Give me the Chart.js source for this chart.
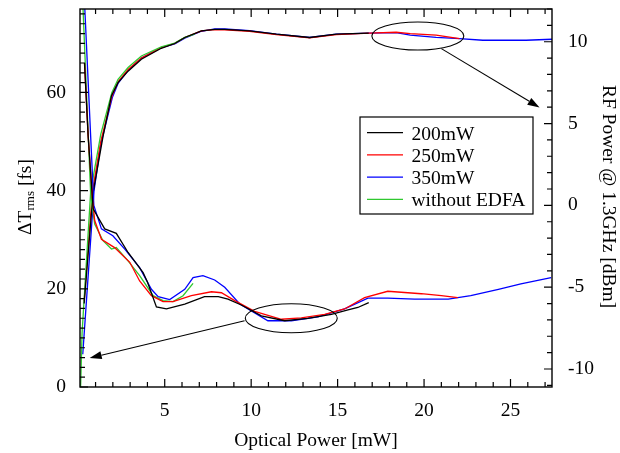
<!DOCTYPE html>
<html>
<head>
<meta charset="utf-8">
<title>Timing jitter and RF power vs optical power</title>
<script src="https://cdn.jsdelivr.net/npm/chart.js@4.4.1/dist/chart.umd.min.js"></script>
<style>
  html, body { margin: 0; padding: 0; background: #fff; }
  #wrap { width: 620px; height: 453px; position: relative; }
</style>
</head>
<body>
<div id="wrap"><canvas id="jitterChart"></canvas></div>
<script>
// Tick labels for the three axes
const xTickValues = [5, 10, 15, 20, 25];
const jitterTickValues = [0, 20, 40, 60];
const rfTickValues = [-10, -5, 0, 5, 10];

// Legend entries
const seriesNames = ['200mW', '250mW', '350mW', 'without EDFA'];
const seriesColors = ['#000000', '#ff0000', '#0000ff', '#2fc82f'];

// Timing jitter ΔT_rms [fs] vs optical power [mW] (left axis)
const jitter200X = [0.36, 0.57, 0.86, 1.53, 2.2, 2.88, 3.75, 4.0, 4.52, 5.1, 6.16, 7.3, 8.1, 8.66, 9.43, 10.59, 11.94, 13.28, 14.64, 15.6, 16.17, 16.8];
const jitter200Y = [66, 51.2, 36.3, 32.2, 31.3, 27.4, 23.3, 21.4, 16.3, 15.9, 16.9, 18.4, 18.4, 17.9, 16.7, 14.5, 13.5, 14.0, 14.8, 15.7, 16.2, 17.2];

const jitter250X = [0.36, 0.57, 0.82, 0.95, 1.34, 2.1, 2.98, 3.55, 4.23, 4.9, 5.48, 6.54, 7.7, 8.28, 9.05, 10.2, 11.75, 12.9, 14.25, 15.4, 16.56, 17.9, 19.84, 21.0, 21.95];
const jitter250Y = [66, 51.2, 38.4, 33.9, 30.1, 28.4, 25.4, 21.6, 18.6, 17.4, 17.4, 18.6, 19.4, 19.2, 17.6, 15.4, 13.8, 14.1, 14.8, 15.9, 18.2, 19.5, 19.0, 18.6, 18.2];

const jitter350X = [0.34, 0.9, 1.34, 2.0, 2.69, 3.55, 4.23, 4.62, 5.29, 6.16, 6.64, 7.21, 7.89, 8.47, 9.34, 10.97, 12.32, 13.86, 15.4, 16.75, 17.9, 19.45, 21.4, 22.7, 24.3, 25.6, 27.35];
const jitter350Y = [80, 37.0, 32.2, 30.8, 28.1, 24.3, 19.9, 18.4, 17.8, 19.9, 22.3, 22.7, 21.8, 20.3, 16.9, 13.5, 13.5, 14.3, 15.9, 18.1, 18.1, 17.9, 17.9, 18.6, 19.9, 21.0, 22.3];

const jitterNoEdfaX = [0.24, 0.72, 0.95, 1.43, 1.92, 2.2, 2.88, 3.55, 4.33, 4.9, 5.48, 6.06, 6.64];
const jitterNoEdfaY = [80, 39.0, 33.2, 29.8, 28.1, 28.4, 25.7, 22.7, 18.6, 17.6, 17.4, 18.6, 21.1];

// RF power @ 1.3GHz [dBm] vs optical power [mW] (right axis)
const rf200X = [0.34, 0.86, 1.43, 1.92, 2.3, 2.88, 3.65, 4.8, 5.58, 6.16, 7.12, 7.9, 8.47, 9.9, 11.46, 13.38, 14.92, 16.8];
const rf200Y = [-6.0, 0.8, 4.2, 6.7, 7.5, 8.2, 8.93, 9.6, 9.89, 10.26, 10.66, 10.76, 10.76, 10.66, 10.46, 10.26, 10.46, 10.52];

const rf250X = [0.34, 0.82, 1.3, 1.94, 2.3, 2.88, 3.65, 4.8, 5.58, 6.16, 7.12, 7.9, 8.47, 9.9, 11.46, 13.38, 14.92, 16.85, 18.39, 19.2, 20.7, 22.05];
const rf250Y = [-5.85, 0.86, 3.9, 6.65, 7.55, 8.3, 9.0, 9.64, 9.9, 10.26, 10.66, 10.74, 10.72, 10.64, 10.44, 10.24, 10.44, 10.52, 10.58, 10.5, 10.4, 10.19];

const rf350X = [0.26, 0.91, 1.3, 1.97, 2.3, 2.88, 3.65, 4.8, 5.58, 6.16, 7.12, 7.9, 8.47, 9.9, 11.46, 13.38, 14.92, 16.85, 18.39, 19.2, 20.7, 22.05, 23.4, 25.9, 27.4];
const rf350Y = [-9.1, 0.87, 3.73, 6.59, 7.45, 8.25, 9.0, 9.64, 9.86, 10.22, 10.64, 10.78, 10.78, 10.68, 10.46, 10.26, 10.46, 10.52, 10.56, 10.4, 10.26, 10.19, 10.09, 10.09, 10.15];

const rfNoEdfaX = [0.13, 0.22, 0.72, 1.3, 1.94, 2.3, 2.88, 3.65, 4.8, 5.58, 6.16, 6.73];
const rfNoEdfaY = [-11.3, -7.8, 0.87, 4.34, 6.89, 7.7, 8.42, 9.13, 9.68, 9.92, 10.26, 10.46];

const SERIF = '"Liberation Serif", "Times New Roman", serif';

function toPoints(xs, ys) {
    return xs.map((x, i) => ({ x: x, y: ys[i] }));
}

function lineSet(xs, ys, color, axis) {
    return {
        data: toPoints(xs, ys),
        borderColor: color,
        backgroundColor: 'transparent',
        borderWidth: 1.3,
        pointRadius: 0,
        tension: 0,
        yAxisID: axis
    };
}

function drawArrow(ctx, x1, y1, x2, y2) {
    const ang = Math.atan2(y2 - y1, x2 - x1);
    const head = 12, half = 4;
    ctx.beginPath();
    ctx.moveTo(x1, y1);
    ctx.lineTo(x2 - head * Math.cos(ang), y2 - head * Math.sin(ang));
    ctx.stroke();
    ctx.beginPath();
    ctx.moveTo(x2, y2);
    ctx.lineTo(x2 - head * Math.cos(ang) + half * Math.sin(ang), y2 - head * Math.sin(ang) - half * Math.cos(ang));
    ctx.lineTo(x2 - head * Math.cos(ang) - half * Math.sin(ang), y2 - head * Math.sin(ang) + half * Math.cos(ang));
    ctx.closePath();
    ctx.fill();
}

// fixed axis box sizes, no extra padding for edge labels
function fixSize(prop, size) {
    return (scale) => {
        scale[prop] = size;
        scale.paddingTop = 0;
        scale.paddingBottom = 0;
        scale.paddingLeft = 0;
        scale.paddingRight = 0;
    };
}

// Frame, inward ticks, ellipses with arrows, legend and axis titles
const decorPlugin = {
    id: 'decor',
    afterDraw(chart) {
        const ctx = chart.ctx;
        const a = chart.chartArea;
        const sx = chart.scales.x, sl = chart.scales.y, sr = chart.scales.y2;
        ctx.save();
        ctx.strokeStyle = '#000';
        ctx.fillStyle = '#000';
        ctx.lineWidth = 1.4;
        ctx.strokeRect(a.left, a.top, a.right - a.left, a.bottom - a.top);

        ctx.lineWidth = 1.2;
        ctx.beginPath();
        for (let v = 1; v <= 27; v++) {
            const p = sx.getPixelForValue(v);
            const len = v % 5 === 0 ? 8 : 5;
            ctx.moveTo(p, a.bottom); ctx.lineTo(p, a.bottom - len);
            ctx.moveTo(p, a.top); ctx.lineTo(p, a.top + len);
        }
        for (let v = 0; v <= 76; v += 2) {
            const p = sl.getPixelForValue(v);
            const len = v % 20 === 0 ? 8 : 5;
            ctx.moveTo(a.left, p); ctx.lineTo(a.left + len, p);
        }
        for (let v = -11; v <= 12; v++) {
            const p = sr.getPixelForValue(v);
            const len = v % 5 === 0 ? 8 : 5;
            ctx.moveTo(a.right, p); ctx.lineTo(a.right - len, p);
        }
        ctx.stroke();

        // ellipses marking the two groups of curves
        ctx.lineWidth = 1.1;
        const ex1 = sx.getPixelForValue(19.64), ey1 = sr.getPixelForValue(10.35);
        const erx1 = sx.getPixelForValue(19.64 + 2.66) - ex1;
        const ery1 = ey1 - sr.getPixelForValue(10.35 + 0.86);
        ctx.beginPath();
        ctx.ellipse(ex1, ey1, erx1, ery1, 0, 0, Math.PI * 2);
        ctx.stroke();
        const ex2 = sx.getPixelForValue(12.32), ey2 = sl.getPixelForValue(14.0);
        const erx2 = sx.getPixelForValue(12.32 + 2.66) - ex2;
        const ery2 = ey2 - sl.getPixelForValue(14.0 + 2.96);
        ctx.beginPath();
        ctx.ellipse(ex2, ey2, erx2, ery2, 0, 0, Math.PI * 2);
        ctx.stroke();

        drawArrow(ctx, sx.getPixelForValue(21.0), sr.getPixelForValue(9.58),
            sx.getPixelForValue(26.68), sr.getPixelForValue(5.98));
        drawArrow(ctx, sx.getPixelForValue(9.62), sl.getPixelForValue(13.5),
            sx.getPixelForValue(0.66), sl.getPixelForValue(5.9));

        // legend box
        ctx.fillStyle = '#fff';
        ctx.fillRect(360, 117, 173, 97);
        ctx.lineWidth = 1.2;
        ctx.strokeStyle = '#000';
        ctx.strokeRect(360, 117, 173, 97);
        ctx.font = '19.5px ' + SERIF;
        ctx.textAlign = 'left';
        ctx.textBaseline = 'alphabetic';
        seriesNames.forEach((name, i) => {
            const ly = 132.7 + i * 22.2;
            ctx.strokeStyle = seriesColors[i];
            ctx.lineWidth = 1.3;
            ctx.beginPath();
            ctx.moveTo(367, ly); ctx.lineTo(403, ly);
            ctx.stroke();
            ctx.fillStyle = '#000';
            ctx.fillText(name, 411.5, ly + 7);
        });

        // axis titles
        ctx.fillStyle = '#000';
        ctx.textAlign = 'center';
        ctx.fillText('Optical Power [mW]', 316, 446);

        ctx.save();
        ctx.translate(603, 196.5);
        ctx.rotate(Math.PI / 2);
        ctx.fillText('RF Power @ 1.3GHz [dBm]', 0, 0);
        ctx.restore();

        ctx.save();
        ctx.translate(31, 197);
        ctx.rotate(-Math.PI / 2);
        ctx.textAlign = 'left';
        const big = '19.5px ' + SERIF, small = '13px ' + SERIF;
        ctx.font = big;
        const w1 = ctx.measureText('ΔT').width;
        const w3 = ctx.measureText(' [fs]').width;
        ctx.font = small;
        const w2 = ctx.measureText('rms').width;
        let x0 = -(w1 + w2 + w3) / 2;
        ctx.font = big;
        ctx.fillText('ΔT', x0, 0);
        ctx.font = small;
        ctx.fillText('rms', x0 + w1, 3);
        ctx.font = big;
        ctx.fillText(' [fs]', x0 + w1 + w2, 0);
        ctx.restore();

        ctx.restore();
    }
};

const tickFont = { family: SERIF, size: 19.5 };

const ctx = document.getElementById('jitterChart').getContext('2d');
const jitterChart = new Chart(ctx, {
    type: 'line',
    data: {
        datasets: [
            lineSet(jitter200X, jitter200Y, seriesColors[0], 'y'),
            lineSet(jitter250X, jitter250Y, seriesColors[1], 'y'),
            lineSet(jitterNoEdfaX, jitterNoEdfaY, seriesColors[3], 'y'),
            lineSet(jitter350X, jitter350Y, seriesColors[2], 'y'),
            lineSet(rf200X, rf200Y, seriesColors[0], 'y2'),
            lineSet(rfNoEdfaX, rfNoEdfaY, seriesColors[3], 'y2'),
            lineSet(rf250X, rf250Y, seriesColors[1], 'y2'),
            lineSet(rf350X, rf350Y, seriesColors[2], 'y2')
        ]
    },
    options: {
        responsive: true,
        maintainAspectRatio: false,
        animation: false,
        layout: { padding: { top: 9, left: 0, right: 0, bottom: 0 } },
        plugins: {
            legend: { display: false },
            tooltip: { enabled: false }
        },
        scales: {
            x: {
                type: 'linear',
                min: 0.1,
                max: 27.4,
                grid: { display: false },
                border: { display: false },
                ticks: { font: tickFont, color: '#000', padding: 4, maxRotation: 0 },
                afterBuildTicks: (scale) => { scale.ticks = xTickValues.map(v => ({ value: v })); },
                afterFit: fixSize('height', 66)
            },
            y: {
                type: 'linear',
                position: 'left',
                min: 0,
                max: 77,
                grid: { display: false },
                border: { display: false },
                ticks: { font: tickFont, color: '#000', padding: 6 },
                afterBuildTicks: (scale) => { scale.ticks = jitterTickValues.map(v => ({ value: v })); },
                afterFit: fixSize('width', 80)
            },
            y2: {
                type: 'linear',
                position: 'right',
                min: -11.1,
                max: 12.0,
                grid: { display: false },
                border: { display: false },
                ticks: { font: tickFont, color: '#000', padding: 8 },
                afterBuildTicks: (scale) => { scale.ticks = rfTickValues.map(v => ({ value: v })); },
                afterFit: fixSize('width', 68)
            }
        }
    },
    plugins: [decorPlugin]
});
</script>
</body>
</html>
